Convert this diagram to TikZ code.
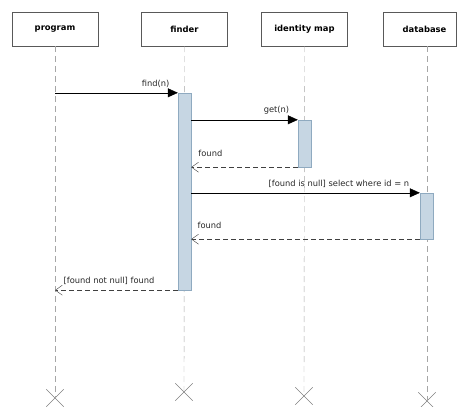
\documentclass[tikz,border=0pt]{standalone}
\usepackage{fontspec}
\setmainfont{DejaVu Sans}
\usetikzlibrary{arrows.meta,shapes.misc}
\definecolor{actfill}{HTML}{C6D6E3}
\definecolor{actline}{HTML}{8FAAC0}
\tikzset{
  actor/.style={draw=black!65, fill=white, minimum width=86pt, minimum height=34pt, inner sep=0pt, font=\bfseries\fontsize{8.4}{10}\selectfont},
  lifeline/.style={draw=black!35, dash pattern=on 6pt off 4pt},
  activation/.style={draw=actline, fill=actfill, minimum width=13pt, inner sep=0pt},
  call/.style={-{Triangle[length=10pt,width=9pt]}, black},
  reply/.style={-{Straight Barb[length=7pt,width=10pt]}, black!75, dash pattern=on 5pt off 3pt},
  msg/.style={font=\fontsize{8.3}{10}\selectfont, text=black!85, inner sep=1pt, above=4pt},
  endmark/.style={cross out, draw=black!50, minimum size=17pt, inner sep=0pt}
}
\begin{document}
\begin{tikzpicture}[x=1pt,y=-1pt]
    \useasboundingbox (0,0) rectangle (461,407);
    % Draw the participants.
    \node[actor] (prog) at (55,29) {program};
    \node[actor] (find) at (184.5,29) {finder};
    \node[actor] (idmap) at (304.5,29) {identity map};
    \node[actor, minimum width=73pt] (db) at (419.5,29) {\hspace{10pt}database};
    % Draw the lifelines with their end marks.
    \node[endmark] (progend) at (55,398) {};
    \node[endmark] (findend) at (184,392) {};
    \node[endmark] (idmapend) at (304,396) {};
    \node[endmark] (dbend) at (427,401) {};
    \draw[lifeline] (prog.south) -- (progend.center);
    \draw[lifeline] (find.south) -- (findend.center);
    \draw[lifeline] (idmap.south) -- (idmapend.center);
    \draw[lifeline] (dbend |- db.south) -- (dbend.center);
    % Draw the activations.
    \node[activation, minimum height=197pt] (findact) at (184.5,191.5) {};
    \node[activation, minimum height=47pt] (idmapact) at (304.5,143.5) {};
    \node[activation, minimum height=46pt] (dbact) at (426.5,216) {};
    % Draw the messages and their replies.
    \draw[call] (prog |- findact.north) -- (findact.north west) node[msg, pos=0.82] {find(n)};
    \draw[call] (findact.east |- idmapact.north) -- (idmapact.north west) node[msg, pos=0.8] {get(n)};
    \draw[reply] (idmapact.south west) -- (findact.east |- idmapact.south) node[msg, pos=0.82, above=5pt] {found};
    \draw[call] (findact.east |- dbact.north) -- (dbact.north west) node[msg, pos=0.646] {[found is null] select where id = n};
    \draw[reply] (dbact.south west) -- (findact.east |- dbact.south) node[msg, pos=0.92, above=5pt] {found};
    \draw[reply] (findact.south west) -- (prog |- findact.south) node[msg, pos=0.56] {[found not null] found};
\end{tikzpicture}
\end{document}
